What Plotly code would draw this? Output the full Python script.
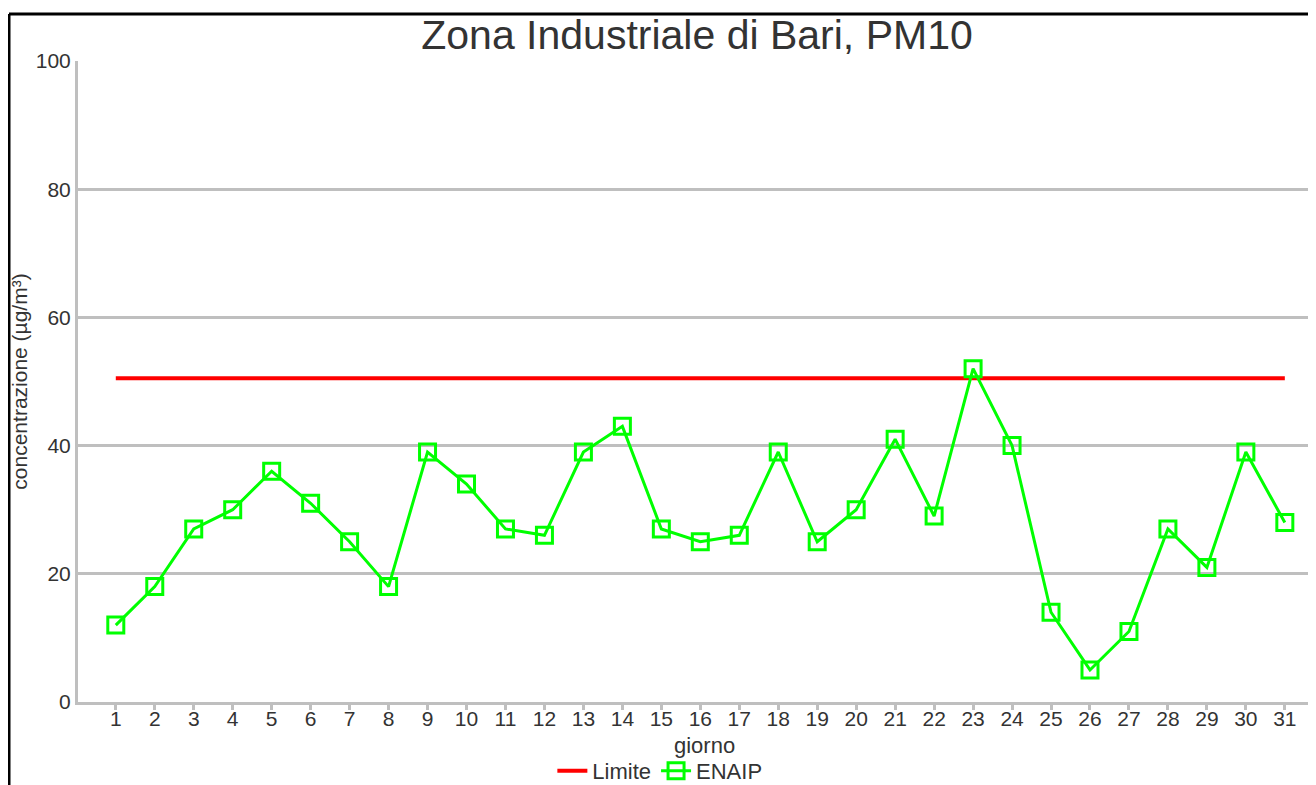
import plotly.graph_objects as go

giorni = list(range(1, 32))
enaip = [12, 18, 27, 30, 36, 31, 25, 18, 39, 34, 27, 26, 39, 43, 27, 25, 26, 39, 25, 30,
         41, 29, 52, 40, 14, 5, 11, 27, 21, 39, 28]
limite = [50.5] * 31

# page has an 8px body margin; figure sized to fit the 1316x785 window
W, H = 1308, 777
L, R, T, B = 70, 0, 53, 83
pw, ph = W - L - R, H - T - B

fig = go.Figure()
fig.add_trace(go.Scatter(x=giorni, y=limite, mode="lines", name="Limite",
                         line=dict(color="#ff0000", width=4)))
fig.add_trace(go.Scatter(x=giorni, y=enaip, mode="lines+markers", name="ENAIP",
                         line=dict(color="#00ff00", width=3),
                         marker=dict(symbol="square-open", size=16,
                                     line=dict(color="#00ff00", width=3))))

# outer frame (left and top edges visible)
fx = (1 - L) / pw
fy = (H - B - 6) / ph
fig.add_shape(type="line", xref="paper", yref="paper", x0=fx, x1=fx, y0=fy, y1=-0.3,
              line=dict(color="black", width=3))
fig.add_shape(type="line", xref="paper", yref="paper", x0=fx, x1=1.1, y0=fy, y1=fy,
              line=dict(color="black", width=3))

# x axis title
fig.add_annotation(text="giorno", xref="paper", yref="paper", x=(704 - 8 - L) / pw,
                   y=-(745 - 8 - 694) / ph, xanchor="center", yanchor="middle",
                   showarrow=False, font=dict(size=22, color="#333333"))

font = "Liberation Sans, Arial, sans-serif"
fig.update_layout(
    width=W, height=H,
    margin=dict(l=L, r=R, t=T, b=B, autoexpand=False),
    paper_bgcolor="white", plot_bgcolor="white",
    font=dict(family=font, color="#333333", size=21),
    title=dict(text="Zona Industriale di Bari, PM10", x=0.5, xanchor="center",
               xref="paper", y=1 - 27 / H, yanchor="middle",
               font=dict(size=41, color="#333333")),
    showlegend=True,
    legend=dict(orientation="h", x=0.47, xanchor="center", y=-(771 - 8 - 694) / ph,
                yanchor="middle",
                font=dict(size=22, color="#333333"), itemwidth=30, tracegroupgap=0),
    xaxis=dict(range=[0.03, 31.8], tickmode="array", tickvals=giorni,
               ticktext=[str(g) for g in giorni], showgrid=False, automargin=False,
               showline=True, linecolor="#bfbfbf", linewidth=3,
               ticks="outside", ticklen=5, tickwidth=3, tickcolor="#bfbfbf",
               tickfont=dict(size=21, color="#333333"), ticklabelstandoff=-9,
               zeroline=False),
    yaxis=dict(range=[0, 100], tickvals=[0, 20, 40, 60, 80, 100],
               showgrid=True, gridcolor="#bfbfbf", gridwidth=3, automargin=False,
               showline=True, linecolor="#bfbfbf", linewidth=3,
               ticks="", tickfont=dict(size=21, color="#333333"),
               title=dict(text="concentrazione (µg/m³)", font=dict(size=21, color="#333333"),
                          standoff=8),
               zeroline=False),
)

fig.write_html("out.html")
